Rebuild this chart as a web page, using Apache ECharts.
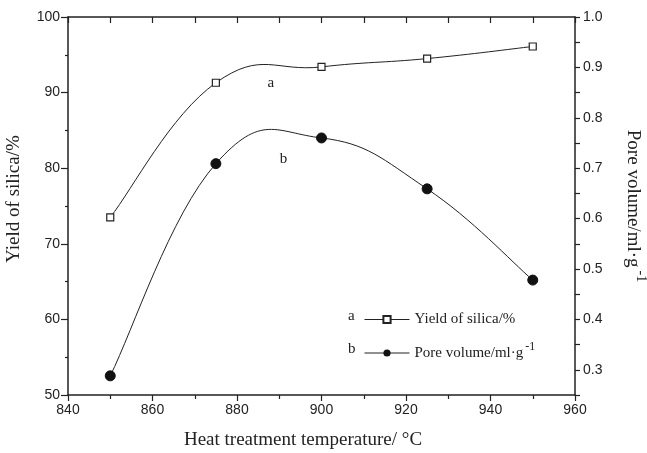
<!DOCTYPE html>
<html>
<head>
<meta charset="utf-8">
<script src="https://cdn.jsdelivr.net/npm/echarts@6/dist/echarts.min.js"></script>
<style>
  html, body { margin: 0; padding: 0; background: #fff; }
  #chart { width: 647px; height: 453px; }
</style>
</head>
<body>
<div id="chart"></div>
<script>
// temperatures (°C) and the two measured series
const temps = [850, 875, 900, 925, 950];
const yieldSilica = [73.5, 91.3, 93.4, 94.5, 96.1];
const poreVolume = [0.288, 0.709, 0.760, 0.659, 0.478];

const serif = "Liberation Serif";
const sans = "Liberation Sans";
const ink = "#222";

// cardinal spline through the data points, drawn in pixel space via api.coord
function splineRender(ys) {
  return function (params, api) {
    if (params.dataIndex !== 0) return;
    const p = temps.map((t, i) => api.coord([t, ys[i]]));
    const k = 1.3 / 6;
    const kids = [];
    for (let i = 0; i < p.length - 1; i++) {
      const a = p[Math.max(i - 1, 0)], b = p[i], c = p[i + 1], d = p[Math.min(i + 2, p.length - 1)];
      kids.push({
        type: "bezierCurve",
        shape: {
          x1: b[0], y1: b[1], x2: c[0], y2: c[1],
          cpx1: b[0] + (c[0] - a[0]) * k, cpy1: b[1] + (c[1] - a[1]) * k,
          cpx2: c[0] - (d[0] - b[0]) * k, cpy2: c[1] - (d[1] - b[1]) * k
        },
        style: { stroke: ink, lineWidth: 1, fill: null }
      });
    }
    return { type: "group", children: kids };
  };
}

const chart = echarts.init(document.getElementById("chart"));

chart.setOption({
  animation: false,
  backgroundColor: "#fff",
  grid: { left: 68, right: 72, top: 17, bottom: 58, outerBoundsMode: "none", containLabel: false },
  legend: {
    orient: "vertical",
    left: 359,
    top: 307,
    itemWidth: 45,
    itemHeight: 9,
    itemGap: 14,
    lineStyle: { opacity: 1, width: 1, color: ink },
    textStyle: {
      fontFamily: serif, fontSize: 15, color: ink,
      rich: {
        t: { fontFamily: serif, fontSize: 15, color: ink },
        sup: { fontFamily: serif, fontSize: 12, color: ink, padding: [0, 0, 12, 2] }
      }
    },
    formatter: name => name === "b" ? "{t|Pore volume/ml·g}{sup|-1}" : "Yield of silica/%",
    data: ["a", "b"]
  },
  graphic: [
    { type: "text", left: 348, top: 309, style: { text: "a", font: "15px " + serif, fill: ink } },
    { type: "text", left: 348, top: 342, style: { text: "b", font: "15px " + serif, fill: ink } }
  ],
  xAxis: [
    {
      type: "value", min: 840, max: 960, interval: 20,
      name: "Heat treatment temperature/ °C",
      nameLocation: "middle", nameGap: 36,
      nameTextStyle: { fontFamily: serif, fontSize: 19, color: ink, padding: [0, 37, 0, 0] },
      axisLine: { lineStyle: { color: ink, width: 1.5 } },
      axisTick: { length: 6, lineStyle: { color: ink, width: 1.2 } },
      minorTick: { show: true, splitNumber: 2, length: 4, lineStyle: { color: ink, width: 1.2 } },
      axisLabel: { fontFamily: sans, fontSize: 14, color: ink, margin: 8 },
      splitLine: { show: false }
    },
    {
      type: "value", min: 840, max: 960, interval: 10, position: "top",
      axisLine: { lineStyle: { color: ink, width: 1.5 } },
      axisTick: { inside: true, length: 6, lineStyle: { color: ink, width: 1.2 } },
      axisLabel: { show: false },
      splitLine: { show: false }
    }
  ],
  yAxis: [
    {
      type: "value", min: 50, max: 100, interval: 10,
      name: "Yield of silica/%",
      nameLocation: "middle", nameGap: 44,
      nameTextStyle: { fontFamily: serif, fontSize: 19, color: ink, padding: [0, 0, 0, 14] },
      axisLine: { show: true, lineStyle: { color: ink, width: 1.5 } },
      axisTick: { show: true, length: 7, lineStyle: { color: ink, width: 1.2 } },
      minorTick: { show: true, splitNumber: 2, length: 3, lineStyle: { color: ink, width: 1.2 } },
      axisLabel: { fontFamily: sans, fontSize: 14, color: ink, margin: 8 },
      splitLine: { show: false }
    },
    {
      type: "value", min: 0.25, max: 1.0, interval: 0.05, position: "right",
      name: "Pore volume/ml·g{sup|-1}",
      nameLocation: "middle", nameGap: 43, nameRotate: -90,
      nameTextStyle: {
        fontFamily: serif, fontSize: 19, color: ink,
        rich: { sup: { fontFamily: serif, fontSize: 14, color: ink, padding: [0, 0, 16, 3] } }
      },
      axisLine: { show: true, lineStyle: { color: ink, width: 1.5 } },
      axisTick: { show: true, length: 5, lineStyle: { color: ink, width: 1.2 } },
      axisLabel: {
        fontFamily: sans, fontSize: 14, color: ink, margin: 8,
        formatter: v => {
          const t = Math.round(v * 100);
          return t % 10 === 0 ? (t / 100).toFixed(1) : "";
        }
      },
      splitLine: { show: false }
    }
  ],
  series: [
    {
      name: "a-curve",
      type: "custom",
      yAxisIndex: 0,
      z: 1,
      data: temps.map((t, i) => [t, yieldSilica[i]]),
      encode: { x: 0, y: 1 },
      renderItem: splineRender(yieldSilica)
    },
    {
      name: "b-curve",
      type: "custom",
      yAxisIndex: 1,
      z: 1,
      data: temps.map((t, i) => [t, poreVolume[i]]),
      encode: { x: 0, y: 1 },
      renderItem: splineRender(poreVolume)
    },
    {
      name: "a",
      type: "line",
      yAxisIndex: 0,
      z: 3,
      data: temps.map((t, i) => [t, yieldSilica[i]]),
      symbol: "rect",
      symbolSize: 7,
      itemStyle: { color: "#fff", borderColor: ink, borderWidth: 1.2 },
      lineStyle: { color: ink, width: 1, opacity: 0 },
      markPoint: {
        symbol: "rect",
        symbolSize: 1,
        itemStyle: { color: "rgba(0,0,0,0)" },
        label: { show: true, position: "inside", formatter: "a", fontFamily: serif, fontSize: 15, color: ink },
        data: [{ coord: [888, 91.3] }]
      }
    },
    {
      name: "b",
      type: "line",
      yAxisIndex: 1,
      z: 3,
      data: temps.map((t, i) => [t, poreVolume[i]]),
      symbol: "circle",
      symbolSize: 10,
      itemStyle: { color: "#111", borderColor: "#111" },
      lineStyle: { color: ink, width: 1, opacity: 0 },
      markPoint: {
        symbol: "rect",
        symbolSize: 1,
        itemStyle: { color: "rgba(0,0,0,0)" },
        label: { show: true, position: "inside", formatter: "b", fontFamily: serif, fontSize: 15, color: ink },
        data: [{ coord: [891, 0.718] }]
      }
    }
  ]
});
</script>
</body>
</html>
